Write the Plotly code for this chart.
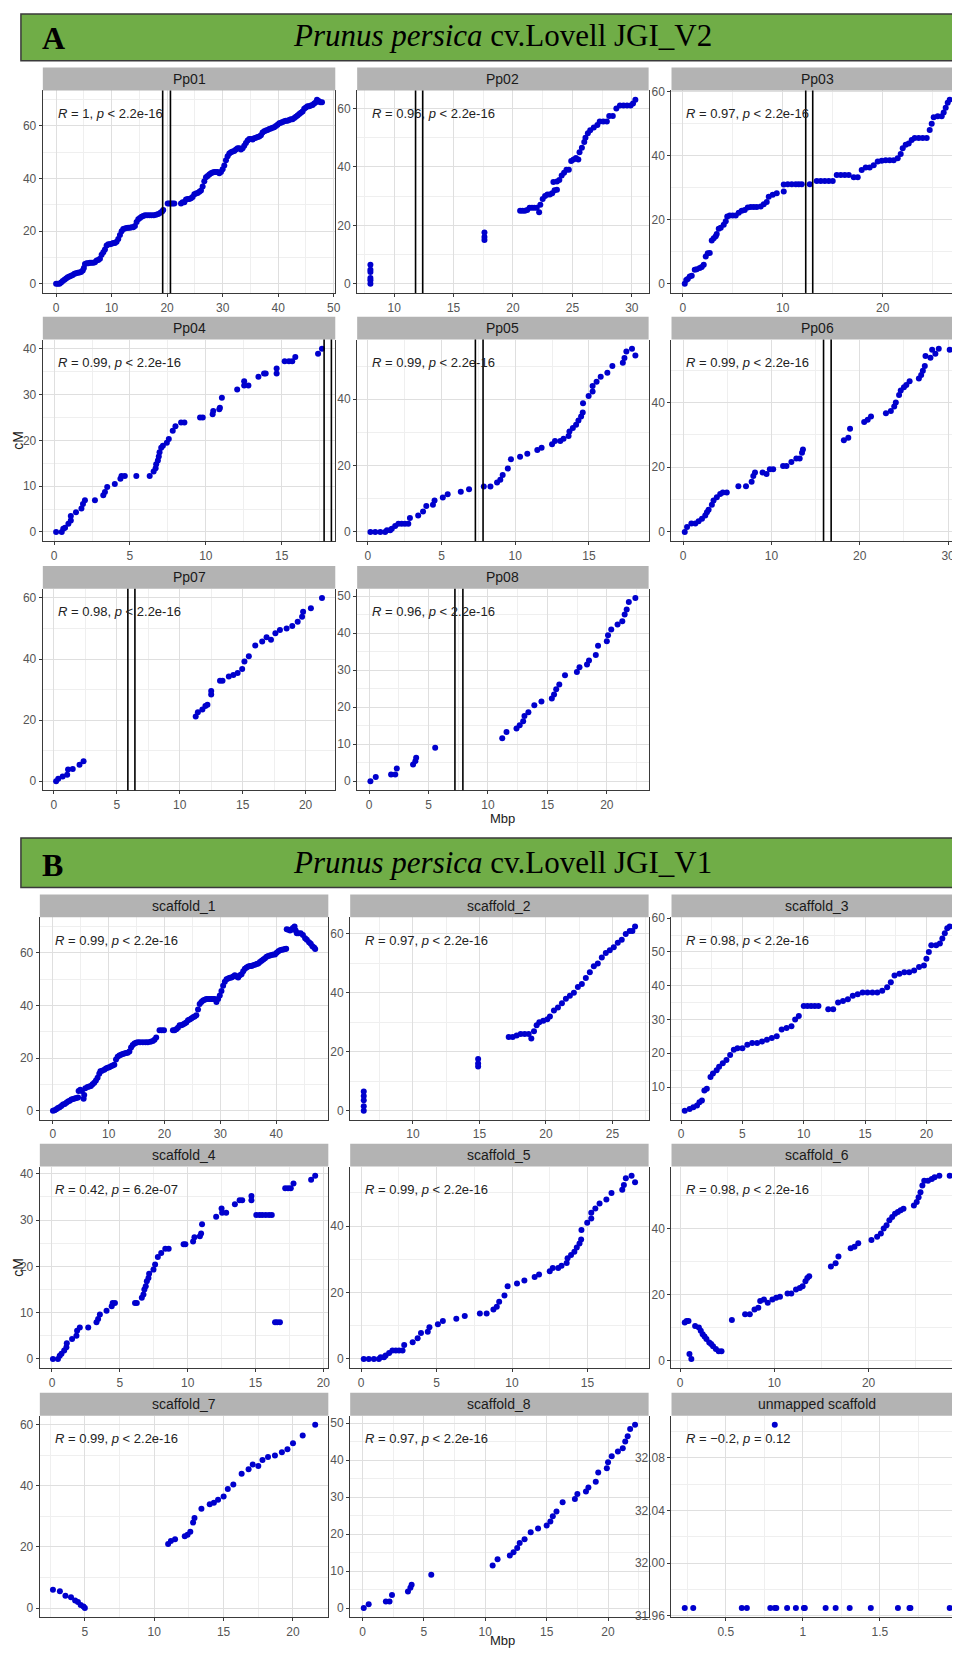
import plotly.graph_objects as go

# ---------------- DATA ----------------
pp01 = [(0.0,0),(0.3,0),(0.6,0),(0.9,0.5),(1.2,1),(1.5,1.5),(1.8,2),(2.1,2.5),(2.4,2.8),(2.7,3),(3.0,3.3),(3.3,3.8),(3.6,4),(3.9,4.2),(4.2,4.3),(4.5,4.5),(4.8,5),(5.0,6),(5.2,7.5),(5.5,7.8),(5.8,7.8),(6.1,8),(6.4,8),(6.7,8),(7.0,8.2),(7.3,8.8),(7.6,9),(7.9,9.5),(8.2,11),(8.5,12),(8.8,13),(9.1,14.5),(9.4,15),(9.7,15),(10.0,15.2),(10.3,15.5),(10.6,15.5),(10.9,16),(11.2,17),(11.5,18.5),(11.8,20),(12.1,20.8),(12.4,21),(12.7,21.2),(13.0,21.3),(13.3,21.3),(13.6,21.5),(13.9,21.5),(14.2,22),(14.5,23.5),(14.8,24.5),(15.1,25),(15.4,25.5),(15.7,25.8),(16.0,26),(16.4,26),(16.8,26),(17.2,26),(17.6,26),(18.0,26.2),(18.4,26.5),(18.8,27),(19.1,27.5),(19.3,28),
        (20.1,30.5),(20.4,30.5),(20.7,30.5),(21.0,30.5),(21.3,30.5),(22.5,30.5),(22.8,31),(23.1,31),(23.4,32),(23.7,32.2),(24.0,32.2),(24.3,32.5),(24.6,33),(24.9,34),(25.2,34.3),(25.5,34.5),(25.8,35),(26.1,35.5),(26.4,37),(26.7,39),(27.0,40.5),(27.3,41),(27.6,41.5),(27.9,42),(28.2,42.3),(28.5,42.5),(28.8,42.5),(29.1,42.5),(29.4,42),(29.7,42.5),(30.0,43.5),(30.3,45),(30.6,47),(30.9,48.5),(31.2,49.5),(31.5,50),(31.8,50.3),(32.1,50.5),(32.4,51),(32.7,51.5),(33.0,51.5),(33.3,51),(33.6,51.5),(33.9,52.5),(34.2,53.5),(34.5,54.5),(34.8,55),(35.1,55),(35.4,54.8),(35.7,55.3),(36.0,55.5),(36.3,55.8),(36.6,56),(36.9,56.5),(37.2,57.5),(37.5,58),(37.8,58.3),(38.1,58.5),(38.4,58.8),(38.7,59),(39.0,59.3),(39.3,59.5),(39.6,60),(39.9,60.5),(40.2,61),(40.5,61.2),(40.8,61.5),(41.1,61.8),(41.4,62),(41.7,62),(42.0,62.3),(42.3,62.5),(42.6,62.5),(42.9,63),(43.2,63.5),(43.5,64),(43.8,64.5),(44.1,65),(44.4,65.5),(44.7,66.5),(45.0,67),(45.3,67.5),(45.6,67.5),(45.9,67.8),(46.2,68),(46.5,68.5),(46.8,69),(47.0,70),(47.3,69.5),(47.6,69),(47.9,69)]
pp02 = [(8.0,0),(8.0,1.2),(8.0,2),(8.0,4),(8.0,4.8),(8.0,6.5),(17.6,15),(17.6,16),(17.6,17.5),
        (20.6,25),(20.8,25),(21.0,25),(21.2,25.2),(21.4,26),(21.6,26),(21.8,26),(22.0,26),(22.2,24.5),(22.3,27),(22.5,29),(22.7,30),(22.9,30.5),(23.1,30.5),(23.3,31),(23.5,32),(23.7,32.2),(23.4,34.8),(23.7,35),(23.9,35.5),(24.1,37),(24.3,38),(24.5,39),(24.7,39),(24.9,42),(25.1,42.5),(25.3,43),(25.5,42.5),(25.6,45),(25.8,46.5),(26.0,48.5),(26.1,50),(26.3,51.5),(26.5,52.5),(26.8,53.5),(27.1,54.3),(27.3,55.5),(27.6,55.5),(27.9,55.5),(28.1,57.4),(28.4,57.4),(28.7,60),(29.0,61),(29.3,61),(29.6,61),(29.9,61),(30.1,61.7),(30.3,63)]
pp03 = [(0.2,0),(0.35,1.2),(0.5,1.5),(0.7,2.3),(0.9,2.5),(1.2,4.4),(1.4,4.5),(1.7,4.9),(1.9,5.2),(2.1,5.9),(2.3,8.5),(2.5,9.5),(2.7,9.6),(2.9,13.5),(3.1,14.2),(3.3,14.8),(3.4,15.5),(3.6,17.2),(3.8,17.5),(4.1,18.4),(4.3,19.5),(4.45,21),(4.7,21.3),(5.0,21.3),(5.3,21.3),(5.6,22.2),(5.9,22.8),(6.2,23),(6.5,23.8),(6.8,24),(7.1,24),(7.4,24),(7.8,24.1),(8.1,24.8),(8.4,25.5),(8.6,27.2),(9.0,27.8),(9.4,28.3),(10.1,28.8),(10.1,31),(10.5,31.1),(10.9,31.1),(11.3,31.1),(11.6,31.1),(11.9,31.1),(12.7,31.1),(13.4,32.1),(13.8,32.1),(14.2,32.1),(14.6,32.1),(15.0,32.1),(15.4,34),(15.8,34),(16.2,34),(16.6,34),(17.1,33.3),(17.5,33.3),(17.9,35.5),(18.3,36.3),(18.7,36.3),(19.1,37),(19.5,38.2),(19.9,38.4),(20.3,38.6),(20.7,38.6),(21.1,38.6),(21.5,39.2),(21.8,40.5),(22.0,42.3),(22.3,43.4),(22.6,43.8),(22.9,44.9),(23.2,45.5),(23.6,45.5),(24.0,45.5),(24.4,45.5),(24.7,48),(24.9,50),(25.1,52),(25.5,52.3),(25.9,52.3),(26.1,53.5),(26.3,55),(26.5,56.5),(26.7,57.5)]
pp04 = [(0.13,0),(0.5,0),(0.6,0.7),(0.72,0.9),(0.94,1.8),(1.1,2.5),(1.1,3.5),(1.44,4.3),(1.8,5.1),(1.9,6.1),(2.03,6.9),(2.69,6.9),(3.24,8.0),(3.35,8.7),(3.5,9.8),(4.0,10.5),(4.37,11.6),(4.44,12.2),(4.66,12.2),(5.42,12.2),(6.3,12.2),(6.56,13.2),(6.69,13.9),(6.73,14.8),(6.84,15.6),(6.9,16.5),(6.95,17.4),(7.06,18.4),(7.17,18.8),(7.43,19.5),(7.56,20.3),(7.82,22.1),(8.0,23.1),(8.37,23.9),(8.59,23.9),(9.62,25),(9.8,25),(10.45,25.7),(10.49,26.4),(10.89,26.8),(10.93,27.1),(11.06,29.3),(12.07,31.1),(12.53,32.9),(12.53,32),(12.81,32),(13.47,33.9),(13.84,34.6),(13.95,34.6),(14.67,34.6),(14.67,35.7),(15.2,37.3),(15.48,37.3),(15.7,37.3),(15.9,38.2),(17.4,38.9),(17.66,40)]
pp05 = [(0.18,0),(0.51,0),(0.85,0),(1.18,0),(1.3,0.5),(1.52,0.5),(1.63,1),(1.86,1.8),(2.08,2.5),(2.3,2.5),(2.52,2.5),(2.75,2.5),(2.86,4.2),(3.42,5),(3.75,6.2),(3.97,7.8),(4.42,8.2),(4.53,9.5),(5.09,10.4),(5.42,11.4),(6.31,12.1),(6.87,12.9),(7.87,13.7),(8.32,13.7),(8.77,14.9),(8.99,15.7),(9.15,17.2),(9.5,19.1),(9.71,21.9),(10.33,22.7),(10.82,23.6),(11.5,24.7),(11.79,25.4),(12.5,26.4),(12.7,27.4),(13.06,27.4),(13.28,28.1),(13.62,28.9),(13.68,30.3),(13.91,31.3),(14.13,32.3),(14.29,33.6),(14.47,34.8),(14.58,36),(14.6,38.8),(14.98,41),(15.25,42.3),(15.25,44),(15.52,45.3),(15.8,46.8),(16.25,48),(16.59,50),(17.3,51),(17.41,52.4),(17.54,54.4),(17.92,55.2),(18.15,53.2)]
pp06 = [(0.19,0),(0.45,1.5),(0.94,2.6),(1.39,2.6),(1.76,3.3),(2.14,4.1),(2.51,5.1),(2.7,6.1),(2.89,6.9),(3.26,8.4),(3.45,9.7),(3.82,10.7),(4.2,11.7),(4.5,12.2),(4.95,12.2),(6.26,14.1),(7.12,14.1),(7.76,15.5),(7.95,17.3),(8.14,18.4),(9.0,18.4),(9.45,17.9),(9.82,19.4),(10.2,19.4),(11.32,20.4),(11.7,20.4),(12.26,21.6),(12.82,22.7),(13.2,22.7),(13.46,24.5),(13.57,25.5),
        (18.2,28.3),(18.7,29.1),(18.9,31.9),(20.5,34),(20.9,34.7),(21.27,35.7),(22.96,36.7),(23.52,37.4),(23.9,38.8),(24.08,40),(24.45,42.3),(24.64,43.7),(25.0,44.7),(25.27,45.4),(25.64,46.6),(26.69,47.4),(26.95,48.5),(27.14,49.8),(27.36,51.3),(27.44,54.4),(28.0,53.8),(28.19,56.3),(28.56,55.1),(28.94,56.6),(30.18,56.3)]
pp07 = [(0.18,0),(0.35,0.8),(0.7,1.5),(1.06,2.1),(1.13,3.8),(1.5,4),(2.04,5.4),(2.36,6.5),
        (11.27,21.2),(11.44,22.6),(11.8,23.5),(12.04,24.6),(12.2,25),(12.5,28.4),(12.5,29.5),(13.2,32.9),(13.4,32.9),(13.9,34.3),(14.26,34.8),(14.6,35.4),(14.96,36.7),(15.14,39.2),(15.49,40.9),(16.0,44.4),(16.55,45.7),(16.9,47.1),(17.25,46.3),(17.6,48.4),(17.96,49.5),(18.49,50),(18.94,50.8),(19.37,52.2),(19.72,53.8),(19.8,55.5),(20.42,56.6),(21.3,60)]
pp08 = [(0.11,0),(0.56,1.1),(1.85,1.8),(2.2,1.8),(2.33,3.4),(3.7,4.5),(3.89,5.4),(3.96,6.3),(5.56,9.0),
        (11.2,11.6),(11.56,13.3),(12.4,14.2),(12.67,15.1),(12.96,16.2),(13.07,17.6),(13.4,18.6),(13.9,20.5),(14.5,21.5),(15.37,22.3),(15.56,23.4),(15.74,24.8),(16.0,26.1),(16.48,28.6),(17.48,29.5),(17.7,30.8),(18.33,31.5),(18.5,32.6),(19.07,34.1),(19.26,36.6),(20.0,37.8),(20.1,39.4),(20.37,41),(20.9,42.3),(21.3,43.2),(21.5,45),(21.67,46.4),(21.85,48.4),(22.4,49.5)]

sc1 = [(0.0,0),(0.3,0.2),(0.6,0.5),(0.9,1),(1.2,1.3),(1.5,1.8),(1.8,2.3),(2.1,2.5),(2.4,3),(2.7,3.5),(3.0,3.8),(3.3,4.2),(3.6,4.4),(3.9,4.6),(4.2,4.8),(4.5,5),(4.6,7.5),(4.9,8),(5.2,7.5),(5.5,4.5),(5.6,6),(5.8,8.5),(6.2,9),(6.5,9.2),(6.8,9.4),(7.1,10),(7.4,10.6),(7.7,11.5),(8.0,12.5),(8.3,14),(8.5,15),(8.8,15.2),(9.2,15.6),(9.5,16),(9.8,16.3),(10.1,16.5),(10.4,16.9),(10.7,17.2),(11.0,17.5),(11.3,19.5),(11.6,20.5),(11.9,21),(12.2,21.3),(12.5,21.5),(12.8,21.7),(13.1,21.9),(13.4,22),(13.7,22.5),(14.0,24),(14.3,25),(14.6,25.5),(14.9,25.8),(15.2,26),(15.6,26),(16.1,26),(16.6,26),(17.0,26),(17.5,26.2),(17.9,26.5),(18.2,27),(18.5,27.8),(19.1,30.6),(19.5,30.6),(19.9,30.6),(21.5,30.6),(21.8,30.6),(22.1,31),(22.4,31.5),(22.7,32.5),(23.0,32.5),(23.3,32.8),(23.6,33.1),(23.9,33.5),(24.2,34.4),(24.5,34.7),(24.8,35),(25.1,35.5),(25.4,35.8),(25.7,36.3),(26.0,38.5),(26.3,40.6),(26.6,41.3),(26.9,41.9),(27.2,42.2),(27.5,42.5),(27.8,42.5),(28.1,42.5),(28.4,42.5),(28.7,42.5),(29.0,42.5),(29.3,41.3),(29.6,42.5),(29.9,43.8),(30.2,45.5),(30.5,47.5),(30.8,49),(31.1,50),(31.4,50.3),(31.7,50.5),(32.0,50.6),(32.3,51),(32.6,51.5),(32.9,51),(33.2,50.6),(33.5,51.5),(33.8,51.9),(34.1,53),(34.4,54),(34.7,54.4),(35.0,54.8),(35.3,55),(35.6,55),(35.9,55.3),(36.2,55.5),(36.5,55.8),(36.8,56),(37.1,56.5),(37.4,57),(37.7,57.5),(38.0,58),(38.3,58.5),(38.6,58.8),(38.9,59),(39.2,59.2),(39.5,59.4),(39.8,59.4),(40.1,60),(40.4,60.6),(40.7,61),(41.0,61.2),(41.3,61.3),(41.6,61.5),(41.8,61.6),
       (41.9,69),(42.2,68.8),(42.5,68.5),(42.7,68.8),(43.0,69.5),(43.3,70),(43.5,68.5),(43.7,67.5),(44.0,67.5),(44.4,67.5),(44.8,66.8),(45.2,65.6),(45.5,65),(45.9,64),(46.2,63.5),(46.5,62.5),(46.8,62),(47.0,61.5)]
sc2 = [(6.3,0),(6.3,1.5),(6.3,3.5),(6.3,5),(6.3,6.5),(14.9,15),(14.9,16),(14.9,17.5),
       (17.2,25),(17.5,25),(17.8,25.5),(18.1,26),(18.4,26),(18.7,26),(18.9,24.5),(19.1,27),(19.3,29),(19.5,30),(19.8,30.5),(20.1,31),(20.3,32),(20.6,34),(20.9,35),(21.2,36.5),(21.5,38),(21.8,39),(22.1,40),(22.4,42),(22.7,43),(23.0,45),(23.3,47),(23.6,49),(23.9,50),(24.2,52),(24.5,53.5),(24.8,54.5),(25.1,55.5),(25.4,57),(25.7,58),(26.0,60),(26.3,61),(26.5,61),(26.7,62.5)]
sc3 = [(0.3,3),(0.7,3.5),(1.0,4),(1.3,4.5),(1.5,5.5),(1.7,6),(1.9,9),(2.1,9.5),(2.4,13),(2.6,14),(2.9,15),(3.1,16),(3.4,17),(3.7,18),(4.0,19.5),(4.3,21),(4.6,21.5),(5.0,21.5),(5.4,22.5),(5.8,23),(6.2,23),(6.6,23.5),(7.0,24),(7.4,24.5),(7.8,25),(8.2,27),(8.6,27.5),(9.0,28),(9.3,30),(9.6,31),(10.0,34),(10.3,34),(10.6,34),(10.9,34),(11.2,34),(12.0,33),(12.4,33),(12.8,35),(13.2,35.5),(13.6,36),(14.0,37),(14.4,37.5),(14.8,38),(15.2,38),(15.6,38),(16.0,38),(16.4,38.5),(16.8,39.5),(17.1,41),(17.4,43),(17.8,43.5),(18.2,44),(18.6,44),(19.0,44.5),(19.4,45.5),(19.8,46),(20.0,48),(20.2,50),(20.4,52),(20.8,52),(21.1,52.5),(21.3,54),(21.5,55.5),(21.7,57),(21.9,57.5)]
sc4 = [(0.07,0),(0.44,0),(0.57,0.7),(0.7,1.1),(0.9,1.8),(1.06,2.5),(1.09,3.4),(1.48,4.3),(1.8,5),(1.85,6.1),(2.05,6.8),(2.67,6.8),(3.28,7.9),(3.4,8.6),(3.53,9.6),(4.02,10.4),(4.4,11.4),(4.47,12.1),(4.64,12.1),(6.12,12.1),(6.25,12.1),(6.62,13.2),(6.74,13.9),(6.81,15),(6.91,15.7),(6.99,16.8),(7.11,17.5),(7.16,18.4),(7.48,19.3),(7.6,20.4),(7.8,22),(8.05,22.9),(8.35,23.8),(8.6,23.8),(9.7,24.8),(9.83,24.8),(10.4,25.4),(10.5,26.3),(10.9,26.5),(10.99,27.1),(11.06,29.1),(12.1,30.7),(12.5,32.5),(12.54,31.6),(12.84,31.6),(13.48,33.4),(13.83,34.3),(14.02,34.3),(14.7,34.3),(14.7,35.2),(15.06,31.1),(15.3,31.1),(15.5,31.1),(15.75,31.1),(16.0,31.1),(16.2,31.1),(16.44,7.9),(16.6,7.9),(16.8,7.9),(17.19,36.9),(17.4,36.9),(17.6,36.9),(17.8,37.9),(19.1,38.7),(19.4,39.6)]
sc5 = [(0.18,0),(0.51,0),(0.85,0),(1.18,0),(1.3,0.5),(1.52,0.5),(1.63,1),(1.86,1.8),(2.08,2.5),(2.3,2.5),(2.52,2.5),(2.75,2.5),(2.86,4.2),(3.42,5),(3.75,6.2),(3.97,7.8),(4.42,8.2),(4.53,9.5),(5.09,10.4),(5.42,11.4),(6.31,12.1),(6.87,12.9),(7.87,13.7),(8.32,13.7),(8.77,14.9),(8.99,15.7),(9.15,17.2),(9.5,19.1),(9.71,21.9),(10.33,22.7),(10.82,23.6),(11.5,24.7),(11.79,25.4),(12.5,26.4),(12.7,27.4),(13.06,27.4),(13.28,28.1),(13.62,28.9),(13.68,30.3),(13.91,31.3),(14.13,32.3),(14.29,33.6),(14.47,34.8),(14.58,36),(14.6,38.8),(14.98,41),(15.25,42.3),(15.25,44),(15.52,45.3),(15.8,46.8),(16.25,48),(16.59,50),(17.3,51),(17.41,52.4),(17.54,54.4),(17.92,55.2),(18.15,53.2)]
sc6 = [(0.5,11.5),(0.7,12),(0.9,12),(1.0,2),(1.2,0.5),(1.6,10.5),(2.0,10),(2.2,9),(2.4,8),(2.6,7.3),(2.8,6.5),(3.1,5.5),(3.3,5),(3.5,4.3),(3.8,3.5),(4.1,2.8),(4.4,2.8),(5.5,12.3),(6.9,14),(7.4,14),(7.9,15.5),(8.3,16),(8.5,18),(8.9,18.5),(9.3,17.5),(9.8,18.5),(10.2,19),(10.6,19.3),(11.4,20.3),(11.8,20.3),(12.3,21.5),(12.7,22),(13.0,22.5),(13.3,24),(13.5,25),(13.7,25.5),(16.0,28.5),(16.5,29.5),(16.8,31.5),(18.1,34),(18.5,34.5),(18.9,35.5),(20.3,36.5),(20.9,37.5),(21.3,38.5),(21.6,40),(21.9,41),(22.2,42.5),(22.5,43.5),(22.8,44.5),(23.1,45),(23.4,45.5),(23.7,46),(24.8,47),(25.1,48),(25.3,49.5),(25.5,51),(25.7,53),(25.9,54.5),(26.3,54.5),(26.7,55),(27.0,55.5),(27.5,56),(28.6,56)]
sc7 = [(2.7,6),(3.2,5.5),(3.6,4),(4.0,3.5),(4.3,2.5),(4.5,2),(4.7,1),(4.9,0.5),(5.0,0),
       (11.0,21),(11.2,22),(11.5,22.5),(12.2,23.5),(12.4,24),(12.6,25),(12.8,28),(12.9,29.5),(13.4,32.5),(14.0,34),(14.3,34.5),(14.6,35.5),(15.0,36.5),(15.3,39),(15.7,40.5),(16.3,44),(16.8,45.5),(17.1,47),(17.5,46.5),(17.8,48.5),(18.2,49.5),(18.7,50),(19.2,51),(19.6,52),(20.0,54),(20.7,56.5),(21.6,60)]
sc8 = [(0.1,0),(0.5,1),(1.9,1.8),(2.2,1.8),(2.4,3.5),(3.7,4.5),(3.9,5.5),(4.0,6.3),(5.6,9),
       (10.6,11.5),(11.0,13.2),(12.0,14.2),(12.3,15.1),(12.6,16.2),(12.8,17.6),(13.2,18.6),(13.7,20.5),(14.3,21.5),(15.0,22.3),(15.3,23.4),(15.5,24.8),(15.8,26.1),(16.3,28.6),(17.3,29.5),(17.5,30.8),(18.2,31.5),(18.4,32.6),(19.0,34.1),(19.2,36.6),(19.9,37.8),(20.0,39.4),(20.3,41),(20.8,42.3),(21.2,43.2),(21.4,45),(21.6,46.4),(21.8,48.4),(22.2,49.5)]
unm_x = [0.234,0.289,0.604,0.637,0.789,0.818,0.828,0.898,0.955,1.007,1.013,1.148,1.213,1.304,1.441,1.617,1.692,1.698,1.953,0.818]
unm_y = [31.966]*19 + [32.105]

vlines = {"Pp01": [19.2, 20.6], "Pp02": [11.8, 12.4], "Pp03": [12.3, 13.0], "Pp04": [17.8, 18.28],
          "Pp05": [7.3, 7.82], "Pp06": [15.9, 16.76], "Pp07": [5.88, 6.44], "Pp08": [7.22, 7.89]}

stats_A = ["<i>R</i> = 1, <i>p</i> &lt; 2.2e-16", "<i>R</i> = 0.96, <i>p</i> &lt; 2.2e-16", "<i>R</i> = 0.97, <i>p</i> &lt; 2.2e-16",
           "<i>R</i> = 0.99, <i>p</i> &lt; 2.2e-16", "<i>R</i> = 0.99, <i>p</i> &lt; 2.2e-16", "<i>R</i> = 0.99, <i>p</i> &lt; 2.2e-16",
           "<i>R</i> = 0.98, <i>p</i> &lt; 2.2e-16", "<i>R</i> = 0.96, <i>p</i> &lt; 2.2e-16"]
stats_B = ["<i>R</i> = 0.99, <i>p</i> &lt; 2.2e-16", "<i>R</i> = 0.97, <i>p</i> &lt; 2.2e-16", "<i>R</i> = 0.98, <i>p</i> &lt; 2.2e-16",
           "<i>R</i> = 0.42, <i>p</i> = 6.2e-07", "<i>R</i> = 0.99, <i>p</i> &lt; 2.2e-16", "<i>R</i> = 0.98, <i>p</i> &lt; 2.2e-16",
           "<i>R</i> = 0.99, <i>p</i> &lt; 2.2e-16", "<i>R</i> = 0.97, <i>p</i> &lt; 2.2e-16", "<i>R</i> = \u22120.2, <i>p</i> = 0.12"]
names_A = ["Pp01", "Pp02", "Pp03", "Pp04", "Pp05", "Pp06", "Pp07", "Pp08"]
names_B = ["scaffold_1", "scaffold_2", "scaffold_3", "scaffold_4", "scaffold_5", "scaffold_6", "scaffold_7", "scaffold_8", "unmapped scaffold"]
titles = ["<i>Prunus persica</i> cv.Lovell JGI_V2", "<i>Prunus persica</i> cv.Lovell JGI_V1"]
panel_letters = ["A", "B"]
x_label = "Mbp"
y_label = "cM"

def unzip(pts):
    return [p[0] for p in pts], [p[1] for p in pts]

series_A = [unzip(p) for p in [pp01, pp02, pp03, pp04, pp05, pp06, pp07, pp08]]
series_B = [unzip(p) for p in [sc1, sc2, sc3, sc4, sc5, sc6, sc7, sc8]] + [(unm_x, unm_y)]
dticks_A = [(10, 20), (5, 20), (10, 20), (5, 10), (5, 20), (10, 20), (5, 20), (5, 10)]
dticks_B = [(10, 20), (5, 20), (5, 10), (5, 10), (5, 20), (10, 20), (5, 20), (5, 10), (0.5, 0.04)]

# ---------------- LAYOUT GEOMETRY (page pixels) ----------------
PAGE_W, PAGE_H = 960, 1653
OFF = 8                                  # default body margin of the html page
W, H = PAGE_W - OFF, PAGE_H - OFF
SHIFT_B = 833
rows_A = [(62, 85, 289), (313, 336, 539), (564, 587, 790)]
rows_B = [tuple(v + SHIFT_B for v in r) for r in rows_A]
cols_A = [(43, 337), (359, 652), (675, 968)]
cols_B = [(40, 330), (352, 652), (675, 968)]
banners = [(5, 55), (5 + SHIFT_B, 55 + SHIFT_B)]

FONT = "Liberation Sans Narrow, Arial Narrow, Liberation Sans, Arial, sans-serif"
SERIF = "Liberation Serif, Times New Roman, serif"

def fx(v): return (v - OFF) / W
def fy(v): return 1 - (v - OFF) / H

fig = go.Figure()
shapes, annots = [], []
layout = {}

def expand(vals):
    lo, hi = min(vals), max(vals)
    d = hi - lo
    return lo - 0.05 * d, hi + 0.05 * d

def add_panel(idx, name, xs, ys, stat, dtx, dty, row, col, vl):
    sfx = "" if idx == 1 else str(idx)
    st, pt, pb = row
    cl, cr = col
    xlo, xhi = expand(xs)
    ylo, yhi = expand(ys)
    clipped = cr > PAGE_W
    right = min(cr, PAGE_W)
    if clipped:
        xhi = xlo + (xhi - xlo) * (PAGE_W - cl) / (cr - cl)
    fig.add_trace(go.Scatter(x=xs, y=ys, mode="markers", marker=dict(color="#0000CD", size=6),
                             xaxis="x" + sfx, yaxis="y" + sfx, showlegend=False, hoverinfo="skip"))
    y0 = 31.96 if dty == 0.04 else 0
    common = dict(showgrid=True, gridcolor="#DFDFDF", gridwidth=1, zeroline=False,
                  showline=True, linecolor="#3A3A3A", linewidth=1.3, ticks="outside", ticklen=3,
                  tickcolor="#3A3A3A", tickwidth=1, tickfont=dict(family=FONT, size=12, color="#555555"))
    xa = dict(common, domain=[fx(cl), min(fx(right), 1)], range=[xlo, xhi], anchor="y" + sfx, tick0=0, dtick=dtx,
              minor=dict(dtick=dtx / 2, tick0=0, showgrid=True, gridcolor="#EFEFEF", gridwidth=1, ticks=""))
    ya = dict(common, domain=[fy(pb), fy(pt)], range=[ylo, yhi], anchor="x" + sfx, dtick=dty,
              tick0=y0, mirror=(not clipped),
              minor=dict(dtick=dty / 2, tick0=y0, showgrid=True, gridcolor="#EFEFEF", gridwidth=1, ticks=""))
    if dty == 0.04:
        ya["tickformat"] = ".2f"
    layout["xaxis" + sfx] = xa
    layout["yaxis" + sfx] = ya
    shapes.append(dict(type="rect", xref="paper", yref="paper", x0=fx(cl), x1=(fx(right) if not clipped else 1.02),
                       y0=fy(pt), y1=fy(st), fillcolor="#B3B3B3", line=dict(width=0), layer="above"))
    annots.append(dict(text=name, xref="paper", yref="paper", x=fx((cl + cr) / 2), y=fy((st + pt) / 2),
                       showarrow=False, font=dict(family=FONT, size=14, color="#1A1A1A"),
                       xanchor="center", yanchor="middle"))
    annots.append(dict(text=stat, xref="x" + sfx + " domain", yref="y" + sfx + " domain",
                       x=13 / (right - cl), y=0.885, showarrow=False, xanchor="left", yanchor="middle",
                       font=dict(family=FONT, size=13, color="#222222")))
    for v in vl:
        shapes.append(dict(type="line", xref="x" + sfx, yref="y" + sfx + " domain", x0=v, x1=v, y0=0, y1=1,
                           line=dict(color="black", width=1.6)))

idx = 1
for k, name in enumerate(names_A):
    r, c = divmod(k, 3)
    xs, ys = series_A[k]
    add_panel(idx, name, xs, ys, stats_A[k], dticks_A[k][0], dticks_A[k][1], rows_A[r], cols_A[c], vlines.get(name, []))
    idx += 1
for k, name in enumerate(names_B):
    r, c = divmod(k, 3)
    xs, ys = series_B[k]
    add_panel(idx, name, xs, ys, stats_B[k], dticks_B[k][0], dticks_B[k][1], rows_B[r], cols_B[c], [])
    idx += 1

for b, (t0, t1) in enumerate(banners):
    shapes.append(dict(type="rect", xref="paper", yref="paper", x0=fx(21), x1=1.02, y0=fy(t1), y1=min(fy(t0), 1.0),
                       fillcolor="#70AD47", line=dict(color="#3A3A3A", width=1.5), layer="above"))
    annots.append(dict(text="<b>" + panel_letters[b] + "</b>", xref="paper", yref="paper", x=fx(40), y=fy((t0 + t1) / 2 + 2),
                       showarrow=False, xanchor="left", yanchor="middle", font=dict(family=SERIF, size=32, color="black")))
    annots.append(dict(text=titles[b], xref="paper", yref="paper", x=fx(505), y=fy((t0 + t1) / 2),
                       showarrow=False, xanchor="center", yanchor="middle", font=dict(family=SERIF, size=31, color="black")))

for (ym, yb) in [(437, 818), (437 + SHIFT_B, 1646)]:
    annots.append(dict(text=y_label, xref="paper", yref="paper", x=fx(18), y=fy(ym), textangle=-90,
                       showarrow=False, xanchor="center", yanchor="middle", font=dict(family=FONT, size=14, color="#1A1A1A")))
    annots.append(dict(text=x_label, xref="paper", yref="paper", x=fx(505), y=fy(yb),
                       showarrow=False, xanchor="center", yanchor="middle", font=dict(family=FONT, size=13, color="#1A1A1A")))

fig.update_layout(width=W, height=H, margin=dict(l=0, r=0, t=0, b=0), paper_bgcolor="white",
                  plot_bgcolor="white", shapes=shapes, annotations=annots, showlegend=False, **layout)
fig.write_html("out.html")
